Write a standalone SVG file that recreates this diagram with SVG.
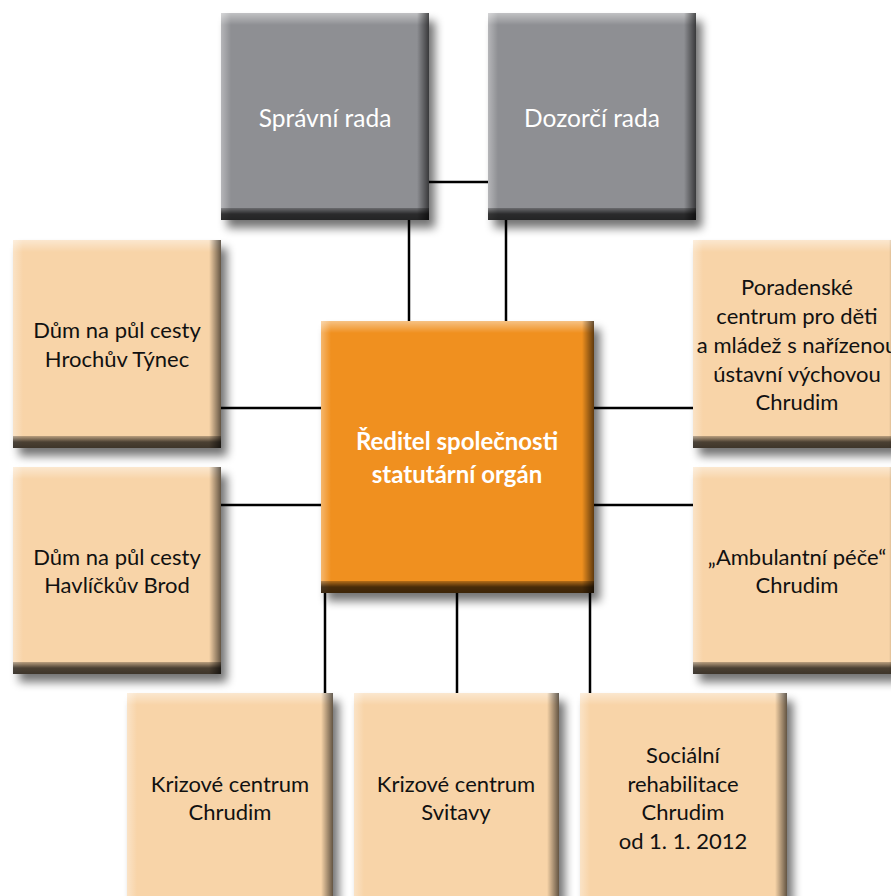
<svg xmlns="http://www.w3.org/2000/svg" width="891" height="896" viewBox="0 0 891 896">
<defs>
<style>
.t{font-family:Lato,"Open Sans","Liberation Sans",sans-serif;text-anchor:middle}
.dk{fill:#111;font-size:22px}
.wh{fill:#fff;font-size:24.5px}
.wb{fill:#fff;font-size:24px;font-weight:bold}
.grey{fill:#8e8f93}
.org{fill:#f0901f}
.pch{fill:#f8d4a8}
.sh{fill:#000;opacity:.55;filter:url(#blur)}
.ln{stroke:#000;stroke-width:2.5;fill:none}
</style>
<filter id="blur" x="-20%" y="-20%" width="140%" height="140%"><feGaussianBlur stdDeviation="5"/></filter>
<linearGradient id="gT" x1="0" y1="0" x2="0" y2="1"><stop offset="0" stop-color="#fff" stop-opacity=".45"/><stop offset="1" stop-color="#fff" stop-opacity="0"/></linearGradient>
<linearGradient id="gL" x1="0" y1="0" x2="1" y2="0"><stop offset="0" stop-color="#fff" stop-opacity=".35"/><stop offset="1" stop-color="#fff" stop-opacity="0"/></linearGradient>
<linearGradient id="gR" x1="0" y1="0" x2="1" y2="0"><stop offset="0" stop-color="#000" stop-opacity="0"/><stop offset="1" stop-color="#000" stop-opacity=".6"/></linearGradient>
<linearGradient id="gB" x1="0" y1="0" x2="0" y2="1"><stop offset="0" stop-color="#000" stop-opacity=".25"/><stop offset=".5" stop-color="#000" stop-opacity=".7"/><stop offset="1" stop-color="#000" stop-opacity=".75"/></linearGradient>
</defs>
<rect width="891" height="896" fill="#fff"/>

<g id="connectors">
<line class="ln" x1="429" y1="182" x2="488" y2="182"/>
<line class="ln" x1="409" y1="220" x2="409" y2="321"/>
<line class="ln" x1="506" y1="220" x2="506" y2="321"/>
<line class="ln" x1="221" y1="408" x2="321" y2="408"/>
<line class="ln" x1="221" y1="505" x2="321" y2="505"/>
<line class="ln" x1="594" y1="408" x2="693" y2="408"/>
<line class="ln" x1="594" y1="505" x2="693" y2="505"/>
<line class="ln" x1="325" y1="593" x2="325" y2="693"/>
<line class="ln" x1="457" y1="593" x2="457" y2="693"/>
<line class="ln" x1="590" y1="593" x2="590" y2="693"/>
</g>

<g id="spravni-rada">
<rect class="sh" x="227" y="21" width="208" height="207"/>
<rect class="grey" x="221" y="13" width="208" height="207"/>
<rect x="221" y="13" width="208" height="12" fill="url(#gT)"/>
<rect x="221" y="13" width="10" height="207" fill="url(#gL)"/>
<rect x="417" y="13" width="12" height="207" fill="url(#gR)"/>
<rect x="221" y="208" width="208" height="12" fill="url(#gB)"/>
<text class="t wh" x="325" y="127">Správní rada</text>
</g>

<g id="dozorci-rada">
<rect class="sh" x="494" y="21" width="208" height="207"/>
<rect class="grey" x="488" y="13" width="208" height="207"/>
<rect x="488" y="13" width="208" height="12" fill="url(#gT)"/>
<rect x="488" y="13" width="10" height="207" fill="url(#gL)"/>
<rect x="684" y="13" width="12" height="207" fill="url(#gR)"/>
<rect x="488" y="208" width="208" height="12" fill="url(#gB)"/>
<text class="t wh" x="592" y="127">Dozorčí rada</text>
</g>

<g id="reditel">
<rect class="sh" x="327" y="329" width="273" height="272"/>
<rect class="org" x="321" y="321" width="273" height="272"/>
<rect x="321" y="321" width="273" height="12" fill="url(#gT)"/>
<rect x="321" y="321" width="10" height="272" fill="url(#gL)"/>
<rect x="582" y="321" width="12" height="272" fill="url(#gR)"/>
<rect x="321" y="581" width="273" height="12" fill="url(#gB)"/>
<text class="t wb" x="457" y="450">Ředitel společnosti</text>
<text class="t wb" x="457" y="483">statutární orgán</text>
</g>

<g id="dum-hrochuv-tynec">
<rect class="sh" x="19" y="248" width="208" height="208"/>
<rect class="pch" x="13" y="240" width="208" height="208"/>
<rect x="13" y="240" width="208" height="12" fill="url(#gT)"/>
<rect x="13" y="240" width="10" height="208" fill="url(#gL)"/>
<rect x="209" y="240" width="12" height="208" fill="url(#gR)"/>
<rect x="13" y="436" width="208" height="12" fill="url(#gB)"/>
<text class="t dk" x="117" y="338">Dům na půl cesty</text>
<text class="t dk" x="117" y="367">Hrochův Týnec</text>
</g>

<g id="dum-havlickuv-brod">
<rect class="sh" x="19" y="475" width="208" height="207"/>
<rect class="pch" x="13" y="467" width="208" height="207"/>
<rect x="13" y="467" width="208" height="12" fill="url(#gT)"/>
<rect x="13" y="467" width="10" height="207" fill="url(#gL)"/>
<rect x="209" y="467" width="12" height="207" fill="url(#gR)"/>
<rect x="13" y="662" width="208" height="12" fill="url(#gB)"/>
<text class="t dk" x="117" y="565">Dům na půl cesty</text>
<text class="t dk" x="117" y="593">Havlíčkův Brod</text>
</g>

<g id="poradenske-centrum">
<rect class="sh" x="699" y="248" width="208" height="208"/>
<rect class="pch" x="693" y="240" width="208" height="208"/>
<rect x="693" y="240" width="208" height="12" fill="url(#gT)"/>
<rect x="693" y="240" width="10" height="208" fill="url(#gL)"/>
<rect x="889" y="240" width="12" height="208" fill="url(#gR)"/>
<rect x="693" y="436" width="208" height="12" fill="url(#gB)"/>
<text class="t dk" x="797" y="295">Poradenské</text>
<text class="t dk" x="797" y="324">centrum pro děti</text>
<text class="t dk" x="797" y="353">a mládež s nařízenou</text>
<text class="t dk" x="797" y="382">ústavní výchovou</text>
<text class="t dk" x="797" y="410">Chrudim</text>
</g>

<g id="ambulantni-pece">
<rect class="sh" x="699" y="475" width="208" height="207"/>
<rect class="pch" x="693" y="467" width="208" height="207"/>
<rect x="693" y="467" width="208" height="12" fill="url(#gT)"/>
<rect x="693" y="467" width="10" height="207" fill="url(#gL)"/>
<rect x="889" y="467" width="12" height="207" fill="url(#gR)"/>
<rect x="693" y="662" width="208" height="12" fill="url(#gB)"/>
<text class="t dk" x="797" y="565">„Ambulantní péče“</text>
<text class="t dk" x="797" y="593">Chrudim</text>
</g>

<g id="krizove-centrum-chrudim">
<rect class="sh" x="133" y="701" width="206" height="208"/>
<rect class="pch" x="127" y="693" width="206" height="208"/>
<rect x="127" y="693" width="206" height="12" fill="url(#gT)"/>
<rect x="127" y="693" width="10" height="208" fill="url(#gL)"/>
<rect x="321" y="693" width="12" height="208" fill="url(#gR)"/>
<text class="t dk" x="230" y="792">Krizové centrum</text>
<text class="t dk" x="230" y="820">Chrudim</text>
</g>

<g id="krizove-centrum-svitavy">
<rect class="sh" x="360" y="701" width="205" height="208"/>
<rect class="pch" x="354" y="693" width="205" height="208"/>
<rect x="354" y="693" width="205" height="12" fill="url(#gT)"/>
<rect x="354" y="693" width="10" height="208" fill="url(#gL)"/>
<rect x="547" y="693" width="12" height="208" fill="url(#gR)"/>
<text class="t dk" x="456" y="792">Krizové centrum</text>
<text class="t dk" x="456" y="820">Svitavy</text>
</g>

<g id="socialni-rehabilitace">
<rect class="sh" x="586" y="701" width="207" height="208"/>
<rect class="pch" x="580" y="693" width="207" height="208"/>
<rect x="580" y="693" width="207" height="12" fill="url(#gT)"/>
<rect x="580" y="693" width="10" height="208" fill="url(#gL)"/>
<rect x="775" y="693" width="12" height="208" fill="url(#gR)"/>
<text class="t dk" x="683" y="763">Sociální</text>
<text class="t dk" x="683" y="792">rehabilitace</text>
<text class="t dk" x="683" y="820">Chrudim</text>
<text class="t dk" x="683" y="849">od 1. 1. 2012</text>
</g>
</svg>
